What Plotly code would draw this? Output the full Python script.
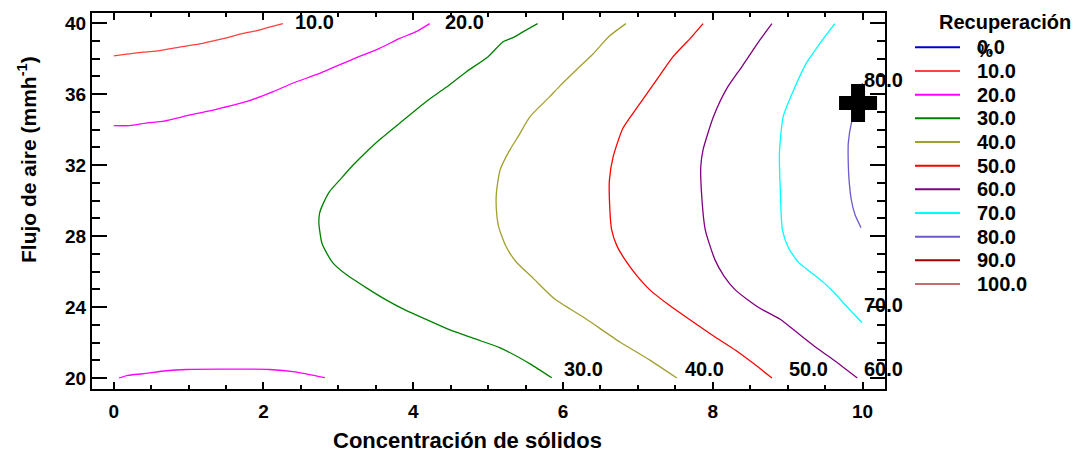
import plotly.graph_objects as go

# Contour levels of "Recuperación %" and their line colours
levels = [0, 10, 20, 30, 40, 50, 60, 70, 80, 90, 100]
level_colors = ["#0000c8", "#ff4040", "#ff00ff", "#008000", "#a0a030", "#ff0000",
                "#800080", "#00ffff", "#6a5acd", "#a00000", "#c07070"]

# Traced iso-lines: Concentración de sólidos (x) vs Flujo de aire (y)
x_10 = [0.0, 0.39, 0.61, 0.88, 1.19, 1.46, 1.77, 1.90, 2.08, 2.26]
y_10 = [38.16, 38.37, 38.46, 38.66, 38.87, 39.13, 39.47, 39.57, 39.79, 39.98]

x_20 = [0.0, 0.21, 0.45, 0.67, 1.02, 1.37, 1.77, 2.13, 2.39, 2.75, 3.19, 3.55, 3.82, 4.04, 4.22,
        None,
        0.07, 0.19, 0.39, 0.70, 0.97, 1.40, 2.08, 2.42, 2.82]
y_20 = [34.23, 34.23, 34.38, 34.48, 34.83, 35.15, 35.58, 36.15, 36.62, 37.18, 37.97, 38.59, 39.15, 39.53, 39.98,
        None,
        20.00, 20.15, 20.24, 20.41, 20.48, 20.50, 20.48, 20.35, 20.02]

x_30 = [5.66, 5.47, 5.34, 5.20, 5.00, 4.71, 4.44, 4.17, 3.82, 3.55, 3.40, 3.20, 3.02, 2.88, 2.80, 2.75, 2.74,
        2.78, 2.85, 2.93, 3.11, 3.38, 3.62, 3.89, 4.20, 4.49, 4.83, 5.16, 5.56, 5.85]
y_30 = [39.98, 39.53, 39.21, 38.96, 38.12, 37.27, 36.39, 35.58, 34.37, 33.43, 32.86, 32.02, 31.17, 30.50, 29.86,
        29.30, 28.73,
        27.61, 27.00, 26.48, 25.82, 25.07, 24.45, 23.84, 23.25, 22.71, 22.20, 21.70, 20.80, 20.01]

x_40 = [6.84, 6.62, 6.40, 6.20, 5.96, 5.82, 5.56, 5.40, 5.29, 5.16, 5.11, 5.11, 5.14, 5.24, 5.37, 5.60,
        5.89, 6.29, 6.76, 7.16, 7.52]
y_40 = [39.98, 39.28, 38.27, 37.46, 36.47, 35.85, 34.74, 33.61, 32.86, 31.73, 30.41, 29.50, 28.54, 27.41, 26.57,
        25.63, 24.45, 23.38, 22.03, 21.01, 20.00]

x_50 = [7.87, 7.70, 7.47, 7.25, 7.00, 6.80, 6.67, 6.62, 6.62, 6.65, 6.72, 6.83, 6.98, 7.16, 7.42, 7.70, 8.00,
        8.30, 8.55, 8.79]
y_50 = [39.98, 39.15, 38.12, 36.81, 35.31, 34.08, 32.48, 31.17, 30.05, 28.35, 27.45, 26.66, 25.80, 24.97, 24.10,
        23.27, 22.40, 21.58, 20.80, 20.00]

x_60 = [8.79, 8.63, 8.39, 8.19, 8.01, 7.87, 7.84, 7.85, 7.90, 8.03, 8.15, 8.30, 8.47, 8.63, 8.90, 9.08, 9.39,
        9.61, 9.93]
y_60 = [39.98, 39.06, 37.56, 36.34, 34.74, 32.86, 31.92, 30.42, 28.35, 26.66, 25.75, 24.97, 24.40, 23.93, 23.31,
        22.72, 21.69, 21.03, 20.00]

x_70 = [9.63, 9.48, 9.25, 9.08, 8.94, 8.89, 8.90, 8.93, 9.01, 9.14, 9.30, 9.47, 9.61, 9.79, 9.99]
y_70 = [39.98, 39.15, 37.75, 36.24, 34.74, 32.68, 30.79, 28.35, 27.34, 26.55, 25.99, 25.42, 24.86, 24.03, 23.13]

x_80 = [10.0, 9.94, 9.86, 9.81, 9.81, 9.82, 9.85, 9.90, 9.98]
y_80 = [36.63, 35.68, 34.55, 33.26, 32.02, 31.17, 30.05, 29.20, 28.47]

contours = {10: (x_10, y_10), 20: (x_20, y_20), 30: (x_30, y_30), 40: (x_40, y_40),
            50: (x_50, y_50), 60: (x_60, y_60), 70: (x_70, y_70), 80: (x_80, y_80)}

# Inline contour labels (left edge, vertical centre)
label_levels = [10, 20, 30, 40, 50, 60, 70, 80]
label_x = [2.39, 4.40, 5.99, 7.60, 8.99, 9.99, 9.99, 9.99]
label_y = [40.07, 40.07, 20.52, 20.52, 20.52, 20.52, 24.13, 36.80]

# Optimum point
opt_x = [9.94]
opt_y = [35.51]

FONT = "Liberation Sans, Arial, Helvetica, sans-serif"
W, H = 1079, 453
M_L, M_R, M_T, M_B = 92, 194, 13, 64
plot_w = W - M_L - M_R
plot_h = H - M_T - M_B


def px_to_paper(px, py):
    return (px - M_L) / plot_w, (H - M_B - py) / plot_h


def bold(size):
    return dict(family=FONT, size=size, color="black", weight="bold")


fig = go.Figure()

for lev, (xs, ys) in contours.items():
    col = level_colors[levels.index(lev)]
    fig.add_trace(go.Scatter(x=xs, y=ys, mode="lines", line=dict(color=col, width=1.3, shape="spline",
                                                                 smoothing=0.6),
                             showlegend=False, hoverinfo="skip", connectgaps=False))

fig.add_trace(go.Scatter(x=opt_x, y=opt_y, mode="markers", showlegend=False,
                         marker=dict(symbol="cross", size=30, color="black",
                                     line=dict(color="black", width=2))))

annotations = []
for lev, lx, ly in zip(label_levels, label_x, label_y):
    annotations.append(dict(x=lx, y=ly, xref="x", yref="y", text=f"{lev:.1f}",
                            showarrow=False, xanchor="left", yanchor="middle", font=bold(20)))

# Legend block drawn at the right of the plot
shapes = []
leg_line_x0, leg_line_x1, leg_text_x = 915, 960, 975
leg_y0, leg_step = 47.3, 23.67
for i, (lev, col) in enumerate(zip(levels, level_colors)):
    yy = leg_y0 + i * leg_step
    x0, yp = px_to_paper(leg_line_x0, yy)
    x1, _ = px_to_paper(leg_line_x1, yy)
    shapes.append(dict(type="line", xref="paper", yref="paper", x0=x0, x1=x1, y0=yp, y1=yp,
                       line=dict(color=col, width=2)))
    tx, _ = px_to_paper(leg_text_x, yy)
    annotations.append(dict(x=tx, y=yp, xref="paper", yref="paper", text=f"{lev:.1f}",
                            showarrow=False, xanchor="left", yanchor="middle", font=bold(20)))

tx, ty = px_to_paper(937, 22)
annotations.append(dict(x=tx, y=ty, xref="paper", yref="paper", text="Recuperación",
                        showarrow=False, xanchor="left", yanchor="middle", font=bold(20)))
tx, ty = px_to_paper(975, 51)
annotations.append(dict(x=tx, y=ty, xref="paper", yref="paper", text="%",
                        showarrow=False, xanchor="left", yanchor="middle", font=bold(18)))

# Axis titles
tx, ty = px_to_paper(467, 440)
annotations.append(dict(x=tx, y=ty, xref="paper", yref="paper", text="Concentración de sólidos",
                        showarrow=False, xanchor="center", yanchor="middle", font=bold(22)))
tx, ty = px_to_paper(27, 160)
annotations.append(dict(x=tx, y=ty, xref="paper", yref="paper", text="Flujo de aire (mmh<sup>-1</sup>)",
                        textangle=-90, showarrow=False, xanchor="center", yanchor="middle",
                        font=bold(21)))

axis_common = dict(showline=True, linecolor="black", linewidth=2, mirror="allticks",
                   ticks="inside", tickcolor="black", tickwidth=1.5,
                   showgrid=False, zeroline=False, tickfont=bold(19))

fig.update_layout(
    width=W, height=H,
    margin=dict(l=M_L, r=M_R, t=M_T, b=M_B, pad=0),
    paper_bgcolor="white", plot_bgcolor="white",
    showlegend=False,
    xaxis=dict(range=[-0.29, 10.3], tickvals=[0, 2, 4, 6, 8, 10], ticklen=7, ticklabelstandoff=4,
               minor=dict(dtick=0.5, ticks="inside", ticklen=4, tickcolor="black", tickwidth=1.5),
               **axis_common),
    yaxis=dict(range=[19.38, 40.58], tickvals=[20, 24, 28, 32, 36, 40], ticklen=15,
               minor=dict(dtick=1, ticks="inside", ticklen=8, tickcolor="black", tickwidth=1.5),
               **axis_common),
    annotations=annotations,
    shapes=shapes,
)

fig.write_html("out.html")
